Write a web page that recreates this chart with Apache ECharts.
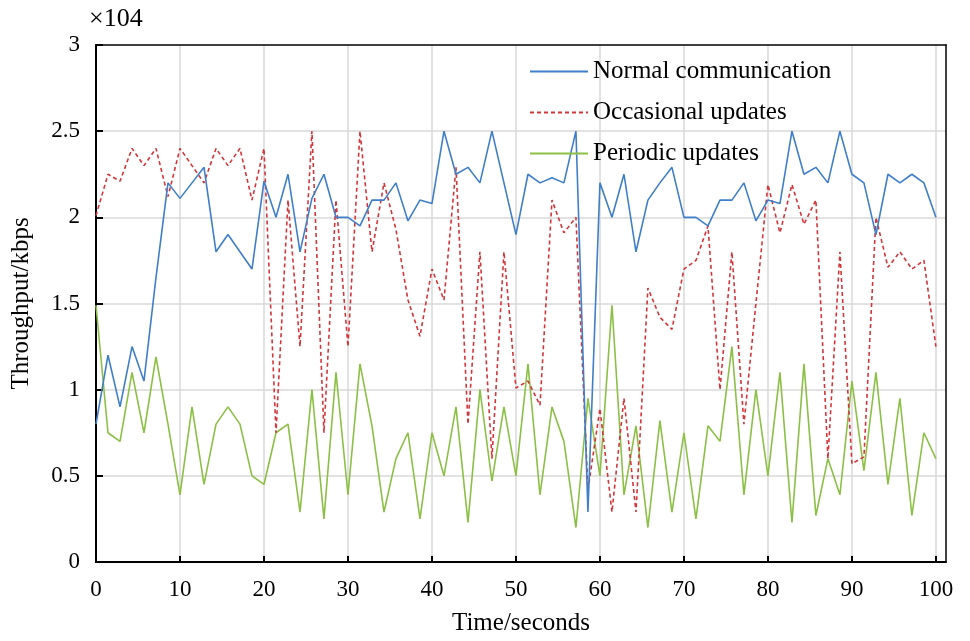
<!DOCTYPE html>
<html>
<head>
<meta charset="utf-8">
<script src="https://cdn.jsdelivr.net/npm/echarts@6/dist/echarts.min.js"></script>
<style>
html,body{margin:0;padding:0;background:#fff;}
#chart{width:970px;height:641px;}
</style>
</head>
<body>
<div id="chart"></div>
<script>
const times = [0, 1.43, 2.86, 4.29, 5.71, 7.14, 8.57, 10, 11.43, 12.86, 14.29, 15.71, 17.14, 18.57, 20, 21.43, 22.86, 24.29, 25.71, 27.14, 28.57, 30, 31.43, 32.86, 34.29, 35.71, 37.14, 38.57, 40, 41.43, 42.86, 44.29, 45.71, 47.14, 48.57, 50, 51.43, 52.86, 54.29, 55.71, 57.14, 58.57, 60, 61.43, 62.86, 64.29, 65.71, 67.14, 68.57, 70, 71.43, 72.86, 74.29, 75.71, 77.14, 78.57, 80, 81.43, 82.86, 84.29, 85.71, 87.14, 88.57, 90, 91.43, 92.86, 94.29, 95.71, 97.14, 98.57, 100];

const normalComm = [0.80,1.20,0.90,1.25,1.05,1.65,2.20,2.11,2.20,2.29,1.80,1.90,1.80,1.70,2.21,2.00,2.25,1.80,
  2.11,2.25,2.00,2.00,1.95,2.10,2.10,2.20,1.98,2.10,2.08,2.50,2.25,2.29,2.20,2.50,2.20,1.90,
  2.25,2.20,2.23,2.20,2.50,0.29,2.20,2.00,2.25,1.80,2.10,2.20,2.29,2.00,2.00,1.95,2.10,
  2.10,2.20,1.98,2.10,2.08,2.50,2.25,2.29,2.20,2.50,2.25,2.20,1.90,2.25,2.20,2.25,2.20,2.00];

const occasional = [2.01,2.25,2.21,2.40,2.30,2.40,2.12,2.40,2.30,2.20,2.40,2.30,2.40,2.10,2.40,0.75,2.10,1.25,
  2.50,0.75,2.10,1.25,2.50,1.80,2.20,1.93,1.52,1.31,1.70,1.52,2.29,0.80,1.80,0.60,1.80,1.01,
  1.05,0.91,2.10,1.91,2.00,0.42,0.89,0.29,0.95,0.29,1.59,1.42,1.35,1.70,1.75,1.95,1.00,
  1.80,0.80,1.50,2.19,1.91,2.19,1.96,2.10,0.60,1.80,0.57,0.61,2.00,1.71,1.80,1.70,1.75,1.25];

const periodic = [1.49,0.75,0.70,1.10,0.75,1.19,0.80,0.39,0.90,0.45,0.80,0.90,0.80,0.50,0.45,0.75,0.80,0.29,
  1.00,0.25,1.10,0.39,1.15,0.79,0.29,0.60,0.75,0.25,0.75,0.50,0.90,0.23,1.00,0.47,0.90,0.50,
  1.15,0.39,0.90,0.70,0.20,0.95,0.50,1.49,0.39,0.79,0.20,0.82,0.29,0.75,0.25,0.79,0.70,
  1.25,0.39,1.00,0.50,1.10,0.23,1.15,0.27,0.60,0.39,1.05,0.53,1.10,0.45,0.95,0.27,0.75,0.60];

const seriesNames = ['Normal communication', 'Occasional updates', 'Periodic updates'];
const xTicks = [0,10,20,30,40,50,60,70,80,90,100];
const yTicks = [0,0.5,1,1.5,2,2.5,3];

const FONT = '"Liberation Serif", "Times New Roman", serif';

function pairs(vals){ return vals.map((v,i)=>[times[i], v]); }

const chart = echarts.init(document.getElementById('chart'), null, {renderer:'canvas'});
chart.setOption({
  animation: false,
  backgroundColor: '#fff',
  textStyle: { fontFamily: FONT, color: '#000' },
  grid: { left: 96, top: 45, right: 24, bottom: 79 },
  graphic: [{
    type: 'text', left: 89, top: 6,
    style: { text: '×104', font: '26px ' + FONT, fill: '#000' }
  }],
  legend: {
    orient: 'vertical', left: 524, top: 54,
    itemWidth: 58, itemHeight: 14, itemGap: 16,
    itemStyle: { opacity: 0 },
    textStyle: { fontFamily: FONT, fontSize: 25, color: '#000', lineHeight: 25 },
    data: seriesNames
  },
  xAxis: [{
    type: 'value', min: 0, max: 101.2, interval: 10,
    name: 'Time/seconds', nameLocation: 'middle', nameGap: 49,
    nameTextStyle: { fontFamily: FONT, fontSize: 25, color: '#000' },
    axisLine: { show: true, lineStyle: { color: '#000', width: 2 } },
    axisTick: { show: true, inside: true, length: 6, lineStyle: { color: '#000', width: 2 } },
    axisLabel: { fontFamily: FONT, fontSize: 23, color: '#000', margin: 16, showMaxLabel: false,
      formatter: v => xTicks.indexOf(v) >= 0 ? String(v) : '' },
    splitLine: { show: true, showMinLine: false, showMaxLine: false, lineStyle: { color: '#d9d9d9', width: 1.5 } }
  }, {
    type: 'value', position: 'top', min: 0, max: 101.2,
    axisLine: { show: true, onZero: false, lineStyle: { color: '#000', width: 1.5 } },
    axisTick: { show: false }, axisLabel: { show: false }, splitLine: { show: false }
  }],
  yAxis: [{
    type: 'value', min: 0, max: 3, interval: 0.5,
    name: 'Throughput/kbps', nameLocation: 'middle', nameGap: 62,
    nameTextStyle: { fontFamily: FONT, fontSize: 25, color: '#000' },
    axisLine: { show: true, lineStyle: { color: '#000', width: 2 } },
    axisTick: { show: true, inside: true, length: 7, lineStyle: { color: '#000', width: 2 } },
    axisLabel: { fontFamily: FONT, fontSize: 23, color: '#000', margin: 16,
      formatter: v => yTicks.indexOf(v) >= 0 ? String(v) : '' },
    splitLine: { show: true, showMinLine: false, showMaxLine: false, lineStyle: { color: '#d9d9d9', width: 1.5 } }
  }, {
    type: 'value', position: 'right', min: 0, max: 3,
    axisLine: { show: true, onZero: false, lineStyle: { color: '#000', width: 1.5 } },
    axisTick: { show: false }, axisLabel: { show: false }, splitLine: { show: false }
  }],
  series: [
    { name: seriesNames[0], type: 'line', data: pairs(normalComm), symbol: 'none', showSymbol: false,
      lineStyle: { color: '#3f7ec8', width: 1.6 }, itemStyle: { color: '#3f7ec8' }, z: 3 },
    { name: seriesNames[1], type: 'line', data: pairs(occasional), symbol: 'none', showSymbol: false,
      lineStyle: { color: '#d2353a', width: 1.6, type: [4, 3] }, itemStyle: { color: '#d2353a' }, z: 2 },
    { name: seriesNames[2], type: 'line', data: pairs(periodic), symbol: 'none', showSymbol: false,
      lineStyle: { color: '#8cbf45', width: 1.6 }, itemStyle: { color: '#8cbf45' }, z: 1 }
  ]
});
</script>
</body>
</html>
